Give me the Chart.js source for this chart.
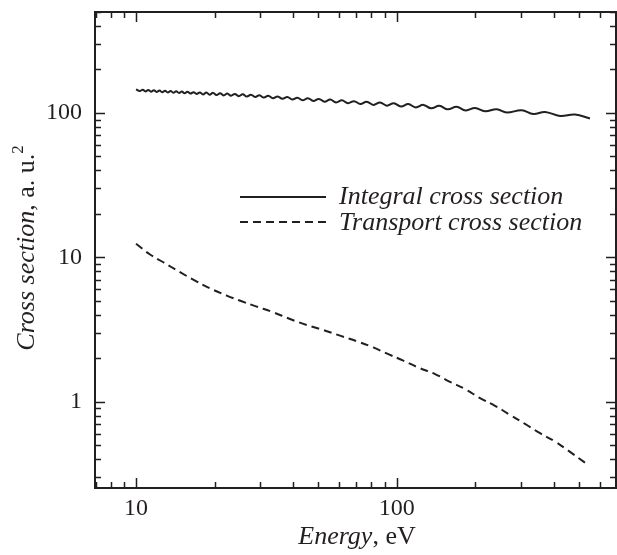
<!DOCTYPE html>
<html>
<head>
<meta charset="utf-8">
<script src="https://cdn.jsdelivr.net/npm/chart.js@4.4.1/dist/chart.umd.min.js"></script>
<style>
  body { margin: 0; background: #fff; }
  canvas { display: block; }
</style>
</head>
<body>
<canvas id="chart" width="617" height="555"></canvas>
<script>
// Integral cross section (solid, wavy) - energy in eV, cross section in a.u.^2
const energyInt = [10, 10.34, 10.60, 10.87, 11.14, 11.42, 11.70, 11.99, 12.30, 12.60,
  12.92, 13.24, 13.57, 13.91, 14.26, 14.62, 14.99, 15.36, 15.76, 16.18,
  16.62, 17.08, 17.57, 18.07, 18.61, 19.16, 19.74, 20.36, 21.00, 21.68,
  22.40, 23.14, 23.93, 24.77, 25.66, 26.61, 27.59, 28.63, 29.74, 30.92,
  32.17, 33.50, 34.92, 36.43, 38.05, 39.77, 41.60, 43.55, 45.64, 47.87,
  50.30, 52.85, 55.58, 58.50, 61.63, 64.98, 68.58, 72.50, 76.72, 81.33,
  86.28, 91.62, 97.47, 103.8, 110.7, 118.3, 126.5, 135.5, 145.7, 156.9,
  169.6, 183.9, 199.7, 218.1, 241.8, 264.2, 301.6, 334.1, 370.5, 423.0, 483.0, 551.2];
const integral = [145.6, 141.6, 145.0, 141.0, 144.3, 140.4, 143.7, 139.8, 143.1, 139.2,
  142.5, 138.6, 141.8, 138.0, 141.2, 137.4, 140.6, 136.8, 140.0, 136.2,
  139.3, 135.5, 138.7, 134.4, 138.4, 133.7, 137.7, 133.0, 136.9, 132.3,
  136.2, 131.5, 135.4, 130.7, 134.6, 129.9, 133.7, 128.9, 132.5, 127.8,
  131.3, 126.6, 130.1, 125.3, 128.8, 124.1, 127.5, 122.4, 126.5, 121.1,
  125.1, 119.7, 123.7, 118.3, 122.2, 116.9, 120.7, 115.4, 119.6, 113.7,
  118.2, 112.3, 116.6, 110.8, 115.1, 109.1, 113.7, 107.6, 112.0, 105.9,
  110.2, 104.1, 108.3, 102.8, 106.1, 100.6, 104.4, 98.4, 101.6, 95.3, 97.5, 91.4];

// Transport cross section (dashed)
const energyTr = [10, 11.32, 12.73, 14.75, 16.84, 19.22, 22.28, 25.43, 29.04, 33.62,
  38.97, 45.16, 52.29, 60.60, 72.31, 81.33, 92.85, 106.0, 121.0, 140.3,
  160.1, 182.8, 208.7, 238.2, 272.0, 310.5, 354.5, 404.7, 455.1, 527.3];
const transport = [12.39, 10.44, 9.23, 7.87, 6.89, 6.09, 5.42, 4.95, 4.55, 4.15,
  3.73, 3.39, 3.13, 2.86, 2.57, 2.37, 2.13, 1.92, 1.72, 1.55,
  1.37, 1.22, 1.056, 0.934, 0.808, 0.700, 0.603, 0.528, 0.457, 0.377];

// axis ticks
const xTicks = [7, 8, 9, 10, 20, 30, 40, 50, 60, 70, 80, 90, 100, 200, 300, 400, 500, 600];
const xTickLabels = [10, 100];
const yTicks = [0.3, 0.4, 0.5, 0.6, 0.7, 0.8, 0.9, 1, 2, 3, 4, 5, 6, 7, 8, 9,
  10, 20, 30, 40, 50, 60, 70, 80, 90, 100, 200, 300, 400, 500];
const yTickLabels = [1, 10, 100];

const seriesNames = ['Integral cross section', 'Transport cross section'];

const INK = '#231f20';
const SERIF = '"Liberation Serif", "DejaVu Serif", serif';

// Draw text made of several runs (italic / upright / superscript)
function drawRuns(ctx, runs, cx, y) {
  let total = 0;
  runs.forEach(r => { ctx.font = r.font; total += ctx.measureText(r.text).width; });
  let x = cx - total / 2;
  runs.forEach(r => {
    ctx.font = r.font;
    ctx.fillText(r.text, x, y + (r.dy || 0));
    x += ctx.measureText(r.text).width;
  });
}

// Frame, inward ticks, legend and axis titles
const decorations = {
  id: 'decorations',
  afterDraw(chart) {
    const ctx = chart.ctx;
    const a = chart.chartArea;
    const xs = chart.scales.x;
    const ys = chart.scales.y;
    ctx.save();
    ctx.strokeStyle = INK;
    ctx.fillStyle = INK;

    // frame
    ctx.lineWidth = 2;
    ctx.strokeRect(a.left, a.top, a.right - a.left, a.bottom - a.top);

    // ticks pointing inwards on all four sides
    ctx.lineWidth = 1.5;
    ctx.beginPath();
    xTicks.forEach(v => {
      const px = Math.round(xs.getPixelForValue(v)) + 0.5;
      const len = xTickLabels.includes(v) ? 10 : 6;
      ctx.moveTo(px, a.bottom); ctx.lineTo(px, a.bottom - len);
      ctx.moveTo(px, a.top); ctx.lineTo(px, a.top + len);
    });
    yTicks.forEach(v => {
      const py = Math.round(ys.getPixelForValue(v)) + 0.5;
      const len = yTickLabels.includes(v) ? 10 : 6;
      ctx.moveTo(a.left, py); ctx.lineTo(a.left + len, py);
      ctx.moveTo(a.right, py); ctx.lineTo(a.right - len, py);
    });
    ctx.stroke();

    // legend
    ctx.lineWidth = 2;
    ctx.beginPath();
    ctx.moveTo(240, 197); ctx.lineTo(326, 197);
    ctx.stroke();
    ctx.setLineDash([8, 5]);
    ctx.beginPath();
    ctx.moveTo(240, 222); ctx.lineTo(326, 222);
    ctx.stroke();
    ctx.setLineDash([]);
    ctx.textAlign = 'left';
    ctx.textBaseline = 'alphabetic';
    ctx.font = 'italic 26px ' + SERIF;
    ctx.fillText(seriesNames[0], 339, 204);
    ctx.fillText(seriesNames[1], 339, 230);

    // x axis title
    drawRuns(ctx, [
      { text: 'Energy', font: 'italic 26px ' + SERIF },
      { text: ', eV', font: '26px ' + SERIF }
    ], 357, 544);

    // y axis title (rotated)
    ctx.translate(34, 248);
    ctx.rotate(-Math.PI / 2);
    drawRuns(ctx, [
      { text: 'Cross section', font: 'italic 26px ' + SERIF },
      { text: ', a. u.', font: '26px ' + SERIF },
      { text: '2', font: '17px ' + SERIF, dy: -11 }
    ], 0, 0);
    ctx.restore();
  }
};

const ctx = document.getElementById('chart').getContext('2d');
new Chart(ctx, {
  type: 'scatter',
  data: {
    datasets: [
      {
        label: seriesNames[0],
        data: energyInt.map((e, i) => ({ x: e, y: integral[i] })),
        showLine: true,
        borderColor: INK,
        borderWidth: 2,
        pointRadius: 0,
        tension: 0.4
      },
      {
        label: seriesNames[1],
        data: energyTr.map((e, i) => ({ x: e, y: transport[i] })),
        showLine: true,
        borderColor: INK,
        borderWidth: 2,
        borderDash: [8, 5],
        pointRadius: 0,
        tension: 0.4
      }
    ]
  },
  options: {
    responsive: false,
    animation: false,
    layout: { padding: { left: 0, top: 12, right: 1, bottom: 0 } },
    plugins: {
      legend: { display: false },
      tooltip: { enabled: false }
    },
    scales: {
      x: {
        type: 'logarithmic',
        min: 6.96,
        max: 693.6,
        border: { display: false },
        grid: { display: false, drawTicks: false },
        afterBuildTicks: scale => { scale.ticks = xTicks.map(v => ({ value: v })); },
        afterFit: scale => {
          scale.height = 67;
          scale.paddingLeft = 0;
          scale.paddingRight = 0;
        },
        ticks: {
          autoSkip: false,
          maxRotation: 0,
          padding: 6,
          color: INK,
          font: { family: SERIF, size: 24 },
          callback: v => xTickLabels.includes(v) ? String(v) : ''
        }
      },
      y: {
        type: 'logarithmic',
        min: 0.2516,
        max: 500.5,
        border: { display: false },
        grid: { display: false, drawTicks: false },
        afterBuildTicks: scale => { scale.ticks = yTicks.map(v => ({ value: v })); },
        afterFit: scale => {
          scale.width = 95;
          scale.paddingTop = 0;
          scale.paddingBottom = 0;
        },
        ticks: {
          autoSkip: false,
          padding: 13,
          color: INK,
          font: { family: SERIF, size: 24 },
          callback: v => yTickLabels.includes(v) ? String(v) : ''
        }
      }
    }
  },
  plugins: [decorations]
});
</script>
</body>
</html>
